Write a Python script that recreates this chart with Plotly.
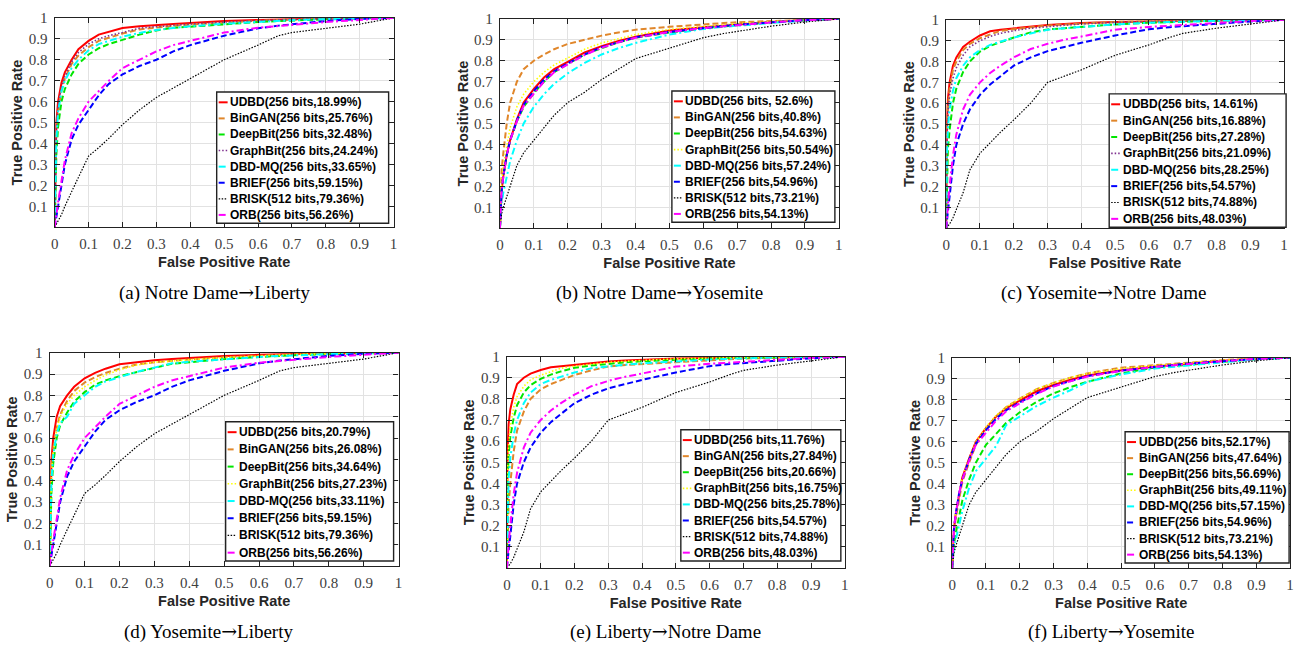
import plotly.graph_objects as go

W, H = 1307, 646

# ---------------- data ----------------
FPR = [0, 0.002, 0.005, 0.01, 0.02, 0.03, 0.05, 0.07, 0.1, 0.13, 0.16, 0.2, 0.25,
       0.3, 0.35, 0.4, 0.5, 0.6, 0.66, 0.7, 0.8, 0.9, 1.0]

METHODS = ["UDBD", "BinGAN", "DeepBit", "GraphBit", "DBD-MQ", "BRIEF", "BRISK", "ORB"]

X_TICKS = [0, 0.1, 0.2, 0.3, 0.4, 0.5, 0.6, 0.7, 0.8, 0.9, 1.0]
X_TICKTEXT = ["0", "0.1", "0.2", "0.3", "0.4", "0.5", "0.6", "0.7", "0.8", "0.9", "1"]
Y_TICKS = [0.1, 0.2, 0.3, 0.4, 0.5, 0.6, 0.7, 0.8, 0.9, 1.0]
Y_TICKTEXT = ["0.1", "0.2", "0.3", "0.4", "0.5", "0.6", "0.7", "0.8", "0.9", "1"]

ARROW = "<span style=\"font-family:'DejaVu Serif'\">\u2192</span>"
CAPTIONS = ["(a) Notre Dame" + ARROW + "Liberty", "(b) Notre Dame" + ARROW + "Yosemite",
            "(c) Yosemite" + ARROW + "Notre Dame", "(d) Yosemite" + ARROW + "Liberty",
            "(e) Liberty" + ARROW + "Notre Dame", "(f) Liberty" + ARROW + "Yosemite"]

labels_a = ["UDBD(256 bits,18.99%)", "BinGAN(256 bits,25.76%)", "DeepBit(256 bits,32.48%)",
            "GraphBit(256 bits,24.24%)", "DBD-MQ(256 bits,33.65%)", "BRIEF(256 bits,59.15%)",
            "BRISK(512 bits,79.36%)", "ORB(256 bits,56.26%)"]
labels_b = ["UDBD(256 bits, 52.6%)", "BinGAN(256 bits,40.8%)", "DeepBit(256 bits,54.63%)",
            "GraphBit(256 bits,50.54%)", "DBD-MQ(256 bits,57.24%)", "BRIEF(256 bits,54.96%)",
            "BRISK(512 bits,73.21%)", "ORB(256 bits,54.13%)"]
labels_c = ["UDBD(256 bits, 14.61%)", "BinGAN(256 bits,16.88%)", "DeepBit(256 bits,27.28%)",
            "GraphBit(256 bits,21.09%)", "DBD-MQ(256 bits,28.25%)", "BRIEF(256 bits,54.57%)",
            "BRISK(512 bits,74.88%)", "ORB(256 bits,48.03%)"]
labels_d = ["UDBD(256 bits,20.79%)", "BinGAN(256 bits,26.08%)", "DeepBit(256 bits,34.64%)",
            "GraphBit(256 bits,27.23%)", "DBD-MQ(256 bits,33.11%)", "BRIEF(256 bits,59.15%)",
            "BRISK(512 bits,79.36%)", "ORB(256 bits,56.26%)"]
labels_e = ["UDBD(256 bits,11.76%)", "BinGAN(256 bits,27.84%)", "DeepBit(256 bits,20.66%)",
            "GraphBit(256 bits,16.75%)", "DBD-MQ(256 bits,25.78%)", "BRIEF(256 bits,54.57%)",
            "BRISK(512 bits,74.88%)", "ORB(256 bits,48.03%)"]
labels_f = ["UDBD(256 bits,52.17%)", "BinGAN(256 bits,47.64%)", "DeepBit(256 bits,56.69%)",
            "GraphBit(256 bits,49.11%)", "DBD-MQ(256 bits,57.15%)", "BRIEF(256 bits,54.96%)",
            "BRISK(512 bits,73.21%)", "ORB(256 bits,54.13%)"]

# TPR values per panel, one row per method (order of METHODS), sampled at FPR
tpr_a = [
    [0, .35, .50, .60, .69, .74, .80, .85, .89, .92, .935, .952, .96, .967, .971, .975, .985, .99, .993, .995, .997, .999, 1],
    [0, .30, .45, .55, .65, .71, .78, .82, .86, .89, .905, .925, .945, .955, .962, .968, .978, .986, .99, .992, .996, .998, 1],
    [0, .20, .35, .48, .60, .66, .73, .78, .825, .855, .875, .895, .92, .94, .953, .958, .97, .98, .985, .988, .993, .997, 1],
    [0, .32, .47, .58, .67, .72, .79, .835, .875, .90, .915, .93, .951, .958, .965, .97, .98, .988, .991, .993, .996, .999, 1],
    [0, .25, .42, .55, .65, .70, .76, .80, .845, .875, .89, .91, .928, .942, .952, .96, .972, .982, .986, .989, .994, .997, 1],
    [0, .02, .05, .10, .20, .30, .42, .49, .56, .63, .685, .73, .77, .80, .84, .87, .915, .95, .963, .97, .985, .995, 1],
    [0, .005, .015, .03, .06, .10, .17, .24, .34, .38, .425, .49, .56, .62, .665, .71, .80, .87, .915, .93, .95, .97, 1],
    [0, .03, .06, .12, .22, .32, .45, .52, .60, .65, .70, .76, .80, .84, .87, .89, .93, .953, .962, .968, .98, .99, 1],
]
tpr_b = [
    [0, .12, .18, .25, .35, .42, .52, .60, .665, .72, .76, .795, .84, .87, .895, .915, .945, .96, .968, .973, .985, .995, 1],
    [0, .20, .28, .36, .50, .60, .70, .76, .80, .83, .855, .88, .90, .92, .935, .948, .962, .975, .98, .984, .99, .996, 1],
    [0, .12, .18, .25, .35, .42, .51, .58, .645, .70, .745, .785, .83, .86, .888, .91, .935, .955, .965, .97, .983, .994, 1],
    [0, .15, .22, .30, .40, .48, .58, .64, .70, .745, .78, .815, .855, .885, .905, .925, .95, .965, .972, .977, .987, .995, 1],
    [0, .08, .12, .17, .25, .32, .42, .50, .58, .64, .69, .74, .79, .83, .86, .885, .925, .952, .962, .968, .98, .992, 1],
    [0, .12, .18, .25, .35, .42, .515, .59, .655, .71, .75, .787, .83, .865, .89, .912, .938, .957, .966, .972, .984, .994, 1],
    [0, .05, .07, .10, .15, .20, .30, .36, .42, .48, .54, .60, .65, .71, .76, .81, .86, .91, .93, .94, .965, .985, 1],
    [0, .12, .18, .25, .35, .42, .51, .585, .645, .70, .745, .782, .828, .862, .888, .91, .937, .956, .965, .971, .983, .994, 1],
]
tpr_c = [
    [0, .50, .62, .70, .78, .82, .87, .895, .925, .945, .953, .96, .967, .975, .98, .985, .99, .993, .995, .996, .998, .999, 1],
    [0, .45, .58, .67, .76, .80, .855, .885, .912, .93, .947, .955, .965, .973, .978, .983, .99, .993, .995, .996, .998, .999, 1],
    [0, .25, .38, .47, .60, .67, .75, .80, .848, .875, .893, .915, .94, .954, .96, .967, .978, .986, .99, .992, .996, .998, 1],
    [0, .42, .55, .64, .72, .77, .83, .87, .90, .92, .935, .948, .96, .968, .974, .98, .988, .992, .994, .995, .998, .999, 1],
    [0, .35, .48, .57, .66, .72, .78, .82, .855, .88, .895, .915, .935, .952, .96, .967, .978, .986, .99, .992, .996, .998, 1],
    [0, .04, .08, .15, .30, .40, .50, .57, .64, .69, .73, .78, .82, .85, .87, .89, .925, .955, .965, .97, .982, .992, 1],
    [0, .003, .01, .02, .05, .09, .17, .28, .36, .41, .46, .52, .60, .70, .73, .76, .83, .88, .915, .935, .96, .98, 1],
    [0, .06, .11, .20, .35, .45, .57, .64, .70, .745, .78, .82, .86, .885, .905, .92, .953, .966, .972, .977, .986, .994, 1],
]
tpr_d = [
    [0, .35, .50, .60, .70, .75, .80, .84, .88, .905, .925, .946, .957, .965, .97, .975, .985, .99, .993, .995, .997, .999, 1],
    [0, .30, .45, .55, .65, .71, .775, .82, .86, .885, .905, .925, .945, .955, .962, .968, .978, .986, .99, .992, .996, .998, 1],
    [0, .20, .35, .48, .60, .66, .72, .77, .815, .85, .87, .89, .91, .93, .948, .955, .97, .98, .985, .988, .993, .997, 1],
    [0, .28, .43, .53, .64, .70, .76, .80, .84, .87, .895, .92, .942, .955, .962, .967, .977, .985, .989, .992, .995, .998, 1],
    [0, .25, .40, .52, .62, .67, .70, .76, .80, .84, .865, .885, .91, .93, .95, .958, .97, .98, .985, .988, .993, .997, 1],
    [0, .02, .05, .10, .20, .30, .42, .49, .56, .63, .685, .73, .77, .80, .84, .87, .915, .95, .963, .97, .985, .995, 1],
    [0, .005, .015, .03, .06, .10, .17, .24, .34, .38, .425, .49, .56, .62, .665, .71, .80, .87, .915, .93, .95, .97, 1],
    [0, .03, .06, .12, .22, .32, .45, .52, .60, .65, .70, .76, .80, .84, .87, .89, .93, .953, .962, .968, .98, .99, 1],
]
tpr_e = [
    [0, .55, .68, .75, .82, .87, .90, .92, .937, .95, .955, .962, .97, .977, .982, .986, .991, .994, .995, .996, .998, .999, 1],
    [0, .20, .30, .40, .55, .65, .74, .80, .845, .87, .89, .913, .935, .953, .96, .965, .975, .984, .988, .991, .995, .998, 1],
    [0, .40, .53, .62, .71, .77, .83, .865, .895, .915, .93, .947, .958, .967, .973, .978, .986, .991, .993, .995, .997, .999, 1],
    [0, .45, .58, .67, .76, .81, .86, .89, .912, .93, .945, .955, .965, .973, .978, .983, .99, .993, .995, .996, .998, .999, 1],
    [0, .30, .42, .52, .63, .70, .78, .83, .87, .89, .905, .925, .945, .955, .962, .968, .978, .986, .99, .992, .996, .998, 1],
    [0, .04, .08, .15, .30, .40, .50, .57, .64, .69, .73, .78, .82, .85, .87, .89, .925, .955, .965, .97, .982, .992, 1],
    [0, .003, .01, .02, .05, .09, .17, .28, .36, .41, .46, .52, .60, .70, .73, .76, .83, .88, .915, .935, .96, .98, 1],
    [0, .06, .11, .20, .35, .45, .57, .64, .70, .745, .78, .82, .86, .885, .905, .92, .953, .966, .972, .977, .986, .994, 1],
]
tpr_f = [
    [0, .12, .18, .25, .35, .43, .52, .60, .665, .72, .76, .795, .84, .87, .895, .915, .94, .958, .966, .972, .985, .995, 1],
    [0, .10, .16, .23, .33, .41, .50, .585, .66, .72, .765, .805, .85, .88, .905, .925, .952, .965, .972, .977, .988, .996, 1],
    [0, .07, .11, .16, .25, .32, .42, .50, .585, .64, .69, .74, .79, .83, .86, .885, .925, .953, .96, .966, .98, .993, 1],
    [0, .12, .18, .25, .35, .43, .52, .60, .67, .725, .765, .805, .85, .88, .905, .925, .948, .963, .97, .975, .987, .996, 1],
    [0, .05, .09, .13, .20, .27, .38, .46, .52, .58, .68, .72, .77, .81, .845, .885, .92, .948, .958, .964, .978, .992, 1],
    [0, .12, .18, .25, .35, .42, .515, .59, .655, .71, .75, .787, .83, .865, .89, .912, .938, .957, .966, .972, .984, .994, 1],
    [0, .05, .07, .10, .15, .20, .30, .36, .42, .48, .54, .60, .65, .71, .76, .81, .86, .91, .93, .94, .965, .985, 1],
    [0, .12, .18, .25, .35, .42, .51, .585, .645, .70, .745, .782, .828, .862, .888, .91, .937, .956, .965, .971, .983, .994, 1],
]

PANEL_TPR = [tpr_a, tpr_b, tpr_c, tpr_d, tpr_e, tpr_f]
PANEL_LABELS = [labels_a, labels_b, labels_c, labels_d, labels_e, labels_f]

# ---------------- styles / layout ----------------
DASH = "6px,3px"
DASHDOT = "7px,3px,2px,3px"
DOT = "1.5px,2px"
STYLE = {
    "UDBD": dict(color="#FF0000", dash="solid", width=2),
    "BinGAN": dict(color="#E0862A", dash=DASH, width=2),
    "DeepBit": dict(color="#00E600", dash=DASH, width=2),
    "GraphBit": dict(color="#7E2F8E", dash=DOT, width=1.6),
    "DBD-MQ": dict(color="#00FFFF", dash=DASHDOT, width=2),
    "BRIEF": dict(color="#0000FF", dash=DASH, width=2),
    "BRISK": dict(color="#000000", dash="1.5px,1.5px", width=1.2),
    "ORB": dict(color="#FF00FF", dash=DASHDOT, width=2),
}
GRAPHBIT_COLOR = ["#7E2F8E", "#FFFF00", "#7E2F8E", "#FFFF00", "#FFFF00", "#FFFF00"]

# panel plot-area pixel boxes (left, right, top, bottom)
PANELS = [(51, 392, 10, 222), (499, 840, 11, 223), (948, 1288, 12, 223),
          (46, 397, 349, 565), (506, 846, 353, 567), (954, 1294, 354, 567)]
LEGEND_BOX = [(214, 85, 387, 218), (672, 84, 836, 217), (1112, 87, 1290, 222),
              (223, 419, 392, 560), (681, 427, 842, 560), (1128, 429, 1293, 562)]
CAPTION_POS = [(212, 288), (660, 288), (1106, 288), (206, 631), (666, 631), (1114, 631)]


def px(x):
    return x / W


def py(y):
    return 1 - y / H


fig = go.Figure()
shapes = []
annotations = []
layout = {}

axis_common = dict(
    range=[0, 1], showline=True, linecolor="#222222", linewidth=1.2, mirror="ticks",
    ticks="inside", ticklen=5, tickcolor="#222222", tickwidth=1,
    showgrid=True, gridcolor="#E2E2E2", gridwidth=1, zeroline=False, fixedrange=True,
    tickfont=dict(family="Liberation Serif", size=15, color="#404040"),
)
title_font = dict(family="Liberation Sans", size=14.5, color="#262626", weight="bold")

for i, (l, r, t, b) in enumerate(PANELS):
    n = "" if i == 0 else str(i + 1)
    layout["xaxis" + n] = dict(
        axis_common, domain=[px(l), px(r)], anchor="y" + n,
        tickvals=X_TICKS, ticktext=X_TICKTEXT, ticklabelstandoff=3,
        title=dict(text="False Positive Rate", font=title_font, standoff=5),
    )
    layout["yaxis" + n] = dict(
        axis_common, domain=[py(b), py(t)], anchor="x" + n,
        tickvals=Y_TICKS, ticktext=Y_TICKTEXT, ticklabelstandoff=3,
        title=dict(text="True Positive Rate", font=title_font, standoff=2),
    )

    tprs = PANEL_TPR[i]
    labels = PANEL_LABELS[i]
    for k, m in enumerate(METHODS):
        st = dict(STYLE[m])
        if m == "GraphBit":
            st["color"] = GRAPHBIT_COLOR[i]
        fig.add_trace(go.Scatter(
            x=FPR, y=tprs[k], mode="lines", name=labels[k], showlegend=False,
            line=dict(color=st["color"], dash=st["dash"], width=st["width"]),
            xaxis="x" + n, yaxis="y" + n, hoverinfo="skip",
        ))

    # manual MATLAB-like legend
    L, T, R, B = LEGEND_BOX[i]
    shapes.append(dict(type="rect", xref="paper", yref="paper",
                       x0=px(L), x1=px(R), y0=py(B), y1=py(T),
                       line=dict(color="#222222", width=1.4), fillcolor="white", layer="above"))
    first, last = T + 10.5, B - 8.5
    for k, m in enumerate(METHODS):
        yc = first + (last - first) * k / (len(METHODS) - 1)
        st = STYLE[m]
        col = GRAPHBIT_COLOR[i] if m == "GraphBit" else st["color"]
        shapes.append(dict(type="line", xref="paper", yref="paper",
                           x0=px(L + 2), x1=px(L + 11), y0=py(yc), y1=py(yc),
                           line=dict(color=col, dash=st["dash"], width=st["width"]),
                           layer="above"))
        annotations.append(dict(
            text=labels[k], xref="paper", yref="paper", x=px(L + 11.5), y=py(yc),
            xanchor="left", yanchor="middle", showarrow=False,
            font=dict(family="Liberation Sans", size=12, color="#000000", weight="bold"),
        ))

    cx, cy = CAPTION_POS[i]
    annotations.append(dict(
        text=CAPTIONS[i], xref="paper", yref="paper", x=px(cx), y=py(cy),
        xanchor="center", yanchor="middle", showarrow=False,
        font=dict(family="Liberation Serif", size=19, color="#000000"),
    ))

fig.update_layout(
    width=W, height=H, margin=dict(l=0, r=0, t=0, b=0),
    paper_bgcolor="white", plot_bgcolor="white", showlegend=False,
    shapes=shapes, annotations=annotations, **layout,
)

fig.write_html("out.html", config={"displayModeBar": False},
               post_script="document.body.style.margin='0';")
